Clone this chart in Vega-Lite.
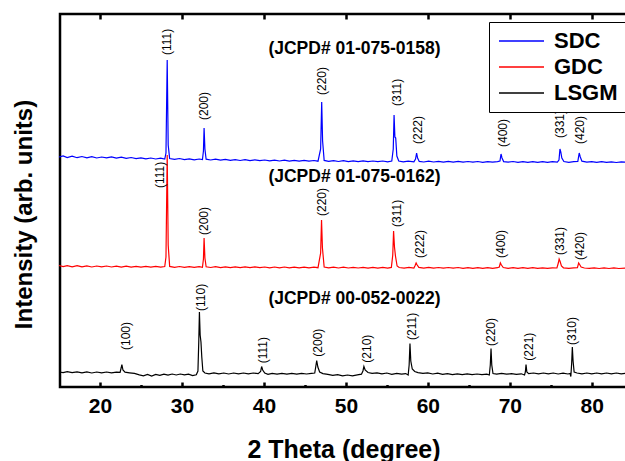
{
"$schema":"https://vega.github.io/schema/vega-lite/v6.json",
"width":567,"height":373,
"autosize":{"type":"none"},
"padding":{"left":60,"top":14,"right":0,"bottom":74},
"background":"white",
"config":{"view":{"stroke":"black","strokeWidth":2.5},"font":"Liberation Sans"},
"datasets":{
"curves":[
{"s":"SDC","x":15,"y":230},{"s":"SDC","x":15.5,"y":231},{"s":"SDC","x":16,"y":229.5},{"s":"SDC","x":16.6,"y":230.8},{"s":"SDC","x":17.2,"y":229.3},{"s":"SDC","x":17.8,"y":230.5},{"s":"SDC","x":18.4,"y":229.2},{"s":"SDC","x":19,"y":230.3},{"s":"SDC","x":19.6,"y":229},{"s":"SDC","x":20.2,"y":230},{"s":"SDC","x":20.8,"y":229.2},{"s":"SDC","x":21.4,"y":230.2},{"s":"SDC","x":22,"y":228.8},{"s":"SDC","x":22.6,"y":229.8},{"s":"SDC","x":23.2,"y":228.6},{"s":"SDC","x":23.8,"y":229.5},{"s":"SDC","x":24.4,"y":228.4},{"s":"SDC","x":25,"y":229.2},{"s":"SDC","x":25.6,"y":228.2},{"s":"SDC","x":26.2,"y":229},{"s":"SDC","x":26.8,"y":228},{"s":"SDC","x":27.4,"y":228.8},{"s":"SDC","x":27.9,"y":228},{"s":"SDC","x":28.05,"y":234},{"s":"SDC","x":28.2,"y":327},{"s":"SDC","x":28.32,"y":242},{"s":"SDC","x":28.5,"y":228.5},{"s":"SDC","x":29.1,"y":227.6},{"s":"SDC","x":29.7,"y":228.5},{"s":"SDC","x":30.3,"y":227.4},{"s":"SDC","x":30.9,"y":228.2},{"s":"SDC","x":31.5,"y":227.2},{"s":"SDC","x":32.1,"y":228},{"s":"SDC","x":32.5,"y":227.4},{"s":"SDC","x":32.62,"y":236},{"s":"SDC","x":32.7,"y":259},{"s":"SDC","x":32.8,"y":238},{"s":"SDC","x":32.95,"y":227.8},{"s":"SDC","x":33.5,"y":227},{"s":"SDC","x":34.1,"y":227.8},{"s":"SDC","x":34.7,"y":226.8},{"s":"SDC","x":35.3,"y":227.6},{"s":"SDC","x":35.9,"y":226.6},{"s":"SDC","x":36.5,"y":227.4},{"s":"SDC","x":37.1,"y":226.5},{"s":"SDC","x":37.7,"y":227.3},{"s":"SDC","x":38.3,"y":226.4},{"s":"SDC","x":38.9,"y":227.2},{"s":"SDC","x":39.5,"y":226.3},{"s":"SDC","x":40.1,"y":227},{"s":"SDC","x":40.7,"y":226.2},{"s":"SDC","x":41.3,"y":226.9},{"s":"SDC","x":41.9,"y":226},{"s":"SDC","x":42.5,"y":226.8},{"s":"SDC","x":43.1,"y":225.9},{"s":"SDC","x":43.7,"y":226.7},{"s":"SDC","x":44.3,"y":225.8},{"s":"SDC","x":44.9,"y":226.6},{"s":"SDC","x":45.5,"y":225.8},{"s":"SDC","x":46.1,"y":226.5},{"s":"SDC","x":46.6,"y":225.8},{"s":"SDC","x":46.92,"y":238},{"s":"SDC","x":47.05,"y":285},{"s":"SDC","x":47.16,"y":246},{"s":"SDC","x":47.35,"y":226.6},{"s":"SDC","x":47.9,"y":225.7},{"s":"SDC","x":48.5,"y":226.4},{"s":"SDC","x":49.1,"y":225.5},{"s":"SDC","x":49.7,"y":226.3},{"s":"SDC","x":50.3,"y":225.4},{"s":"SDC","x":50.9,"y":226.2},{"s":"SDC","x":51.5,"y":225.4},{"s":"SDC","x":52.1,"y":226.1},{"s":"SDC","x":52.7,"y":225.3},{"s":"SDC","x":53.3,"y":226},{"s":"SDC","x":53.9,"y":225.3},{"s":"SDC","x":54.5,"y":226},{"s":"SDC","x":55.1,"y":225.2},{"s":"SDC","x":55.6,"y":225.9},{"s":"SDC","x":55.78,"y":238},{"s":"SDC","x":55.88,"y":272},{"s":"SDC","x":55.98,"y":250},{"s":"SDC","x":56.08,"y":249},{"s":"SDC","x":56.22,"y":231},{"s":"SDC","x":56.45,"y":226},{"s":"SDC","x":57,"y":225.2},{"s":"SDC","x":57.6,"y":225.9},{"s":"SDC","x":58.3,"y":225.2},{"s":"SDC","x":58.5,"y":228},{"s":"SDC","x":58.63,"y":234},{"s":"SDC","x":58.75,"y":229},{"s":"SDC","x":58.95,"y":225.6},{"s":"SDC","x":59.5,"y":225},{"s":"SDC","x":60.1,"y":225.8},{"s":"SDC","x":60.7,"y":225},{"s":"SDC","x":61.3,"y":225.7},{"s":"SDC","x":61.9,"y":224.9},{"s":"SDC","x":62.5,"y":225.6},{"s":"SDC","x":63.1,"y":224.9},{"s":"SDC","x":63.7,"y":225.6},{"s":"SDC","x":64.3,"y":224.8},{"s":"SDC","x":64.9,"y":225.5},{"s":"SDC","x":65.5,"y":224.8},{"s":"SDC","x":66.1,"y":225.5},{"s":"SDC","x":66.7,"y":224.7},{"s":"SDC","x":67.3,"y":225.4},{"s":"SDC","x":67.9,"y":224.8},{"s":"SDC","x":68.5,"y":225.4},{"s":"SDC","x":68.8,"y":226},{"s":"SDC","x":68.93,"y":233},{"s":"SDC","x":69.05,"y":229},{"s":"SDC","x":69.25,"y":225.4},{"s":"SDC","x":69.8,"y":224.8},{"s":"SDC","x":70.4,"y":225.5},{"s":"SDC","x":71,"y":224.7},{"s":"SDC","x":71.6,"y":225.4},{"s":"SDC","x":72.2,"y":224.7},{"s":"SDC","x":72.8,"y":225.4},{"s":"SDC","x":73.4,"y":224.6},{"s":"SDC","x":74,"y":225.3},{"s":"SDC","x":74.6,"y":224.6},{"s":"SDC","x":75.2,"y":225.3},{"s":"SDC","x":75.8,"y":224.8},{"s":"SDC","x":76,"y":227},{"s":"SDC","x":76.12,"y":238},{"s":"SDC","x":76.22,"y":235},{"s":"SDC","x":76.35,"y":229},{"s":"SDC","x":76.6,"y":225.5},{"s":"SDC","x":77.2,"y":224.7},{"s":"SDC","x":77.8,"y":225.3},{"s":"SDC","x":78.3,"y":225.6},{"s":"SDC","x":78.47,"y":234},{"s":"SDC","x":78.6,"y":230},{"s":"SDC","x":78.8,"y":225.8},{"s":"SDC","x":79.4,"y":224.8},{"s":"SDC","x":80,"y":225.4},{"s":"SDC","x":80.6,"y":224.6},{"s":"SDC","x":81.2,"y":225.3},{"s":"SDC","x":81.8,"y":224.6},{"s":"SDC","x":82.4,"y":225.2},{"s":"SDC","x":83,"y":224.5},{"s":"SDC","x":83.6,"y":225.2},{"s":"SDC","x":84.3,"y":224.6},
{"s":"GDC","x":15,"y":121.5},{"s":"GDC","x":15.5,"y":120.3},{"s":"GDC","x":16,"y":121.4},{"s":"GDC","x":16.6,"y":120.2},{"s":"GDC","x":17.2,"y":121.3},{"s":"GDC","x":17.8,"y":120.1},{"s":"GDC","x":18.4,"y":121.2},{"s":"GDC","x":19,"y":120},{"s":"GDC","x":19.6,"y":121},{"s":"GDC","x":20.2,"y":120.1},{"s":"GDC","x":20.8,"y":121},{"s":"GDC","x":21.4,"y":120},{"s":"GDC","x":22,"y":120.9},{"s":"GDC","x":22.6,"y":119.9},{"s":"GDC","x":23.2,"y":120.8},{"s":"GDC","x":23.8,"y":119.8},{"s":"GDC","x":24.4,"y":120.7},{"s":"GDC","x":25,"y":119.8},{"s":"GDC","x":25.6,"y":120.6},{"s":"GDC","x":26.2,"y":119.8},{"s":"GDC","x":26.8,"y":120.6},{"s":"GDC","x":27.4,"y":119.8},{"s":"GDC","x":27.9,"y":120.5},{"s":"GDC","x":28.05,"y":130},{"s":"GDC","x":28.2,"y":232},{"s":"GDC","x":28.32,"y":142},{"s":"GDC","x":28.5,"y":120.6},{"s":"GDC","x":29.1,"y":119.7},{"s":"GDC","x":29.7,"y":120.5},{"s":"GDC","x":30.3,"y":119.6},{"s":"GDC","x":30.9,"y":120.4},{"s":"GDC","x":31.5,"y":119.6},{"s":"GDC","x":32.1,"y":120.3},{"s":"GDC","x":32.5,"y":119.7},{"s":"GDC","x":32.62,"y":128},{"s":"GDC","x":32.7,"y":149},{"s":"GDC","x":32.8,"y":129},{"s":"GDC","x":32.95,"y":120.2},{"s":"GDC","x":33.5,"y":119.5},{"s":"GDC","x":34.1,"y":120.3},{"s":"GDC","x":34.7,"y":119.4},{"s":"GDC","x":35.3,"y":120.2},{"s":"GDC","x":35.9,"y":119.4},{"s":"GDC","x":36.5,"y":120.2},{"s":"GDC","x":37.1,"y":119.3},{"s":"GDC","x":37.7,"y":120.1},{"s":"GDC","x":38.3,"y":119.3},{"s":"GDC","x":38.9,"y":120.1},{"s":"GDC","x":39.5,"y":119.3},{"s":"GDC","x":40.1,"y":120},{"s":"GDC","x":40.7,"y":119.2},{"s":"GDC","x":41.3,"y":120},{"s":"GDC","x":41.9,"y":119.2},{"s":"GDC","x":42.5,"y":120},{"s":"GDC","x":43.1,"y":119.2},{"s":"GDC","x":43.7,"y":119.9},{"s":"GDC","x":44.3,"y":119.1},{"s":"GDC","x":44.9,"y":119.9},{"s":"GDC","x":45.5,"y":119.1},{"s":"GDC","x":46.1,"y":119.9},{"s":"GDC","x":46.6,"y":119.3},{"s":"GDC","x":46.92,"y":134},{"s":"GDC","x":47.03,"y":167},{"s":"GDC","x":47.14,"y":139},{"s":"GDC","x":47.35,"y":120},{"s":"GDC","x":47.9,"y":119.1},{"s":"GDC","x":48.5,"y":119.8},{"s":"GDC","x":49.1,"y":119},{"s":"GDC","x":49.7,"y":119.8},{"s":"GDC","x":50.3,"y":119},{"s":"GDC","x":50.9,"y":119.7},{"s":"GDC","x":51.5,"y":119},{"s":"GDC","x":52.1,"y":119.7},{"s":"GDC","x":52.7,"y":118.9},{"s":"GDC","x":53.3,"y":119.7},{"s":"GDC","x":53.9,"y":118.9},{"s":"GDC","x":54.5,"y":119.6},{"s":"GDC","x":55.1,"y":118.9},{"s":"GDC","x":55.55,"y":119.6},{"s":"GDC","x":55.72,"y":132},{"s":"GDC","x":55.82,"y":156},{"s":"GDC","x":55.93,"y":140},{"s":"GDC","x":56.05,"y":131},{"s":"GDC","x":56.25,"y":121},{"s":"GDC","x":56.5,"y":119.5},{"s":"GDC","x":57.1,"y":118.9},{"s":"GDC","x":57.7,"y":119.6},{"s":"GDC","x":58.3,"y":119},{"s":"GDC","x":58.45,"y":121.5},{"s":"GDC","x":58.57,"y":124},{"s":"GDC","x":58.7,"y":122},{"s":"GDC","x":58.9,"y":119.6},{"s":"GDC","x":59.5,"y":118.9},{"s":"GDC","x":60.1,"y":119.6},{"s":"GDC","x":60.7,"y":118.8},{"s":"GDC","x":61.3,"y":119.5},{"s":"GDC","x":61.9,"y":118.8},{"s":"GDC","x":62.5,"y":119.5},{"s":"GDC","x":63.1,"y":118.8},{"s":"GDC","x":63.7,"y":119.5},{"s":"GDC","x":64.3,"y":118.7},{"s":"GDC","x":64.9,"y":119.4},{"s":"GDC","x":65.5,"y":118.7},{"s":"GDC","x":66.1,"y":119.4},{"s":"GDC","x":66.7,"y":118.7},{"s":"GDC","x":67.3,"y":119.4},{"s":"GDC","x":67.9,"y":118.7},{"s":"GDC","x":68.5,"y":119.3},{"s":"GDC","x":68.72,"y":120},{"s":"GDC","x":68.85,"y":124},{"s":"GDC","x":68.98,"y":122},{"s":"GDC","x":69.2,"y":119.5},{"s":"GDC","x":69.8,"y":118.7},{"s":"GDC","x":70.4,"y":119.3},{"s":"GDC","x":71,"y":118.6},{"s":"GDC","x":71.6,"y":119.3},{"s":"GDC","x":72.2,"y":118.6},{"s":"GDC","x":72.8,"y":119.3},{"s":"GDC","x":73.4,"y":118.6},{"s":"GDC","x":74,"y":119.2},{"s":"GDC","x":74.6,"y":118.6},{"s":"GDC","x":75.2,"y":119.2},{"s":"GDC","x":75.75,"y":119},{"s":"GDC","x":75.92,"y":124},{"s":"GDC","x":76.02,"y":128},{"s":"GDC","x":76.14,"y":125.5},{"s":"GDC","x":76.3,"y":121},{"s":"GDC","x":76.55,"y":119.2},{"s":"GDC","x":77.2,"y":118.6},{"s":"GDC","x":77.8,"y":119.2},{"s":"GDC","x":78.25,"y":119.4},{"s":"GDC","x":78.4,"y":124},{"s":"GDC","x":78.52,"y":122.5},{"s":"GDC","x":78.7,"y":120},{"s":"GDC","x":79.1,"y":119},{"s":"GDC","x":79.7,"y":118.6},{"s":"GDC","x":80.3,"y":119.2},{"s":"GDC","x":80.9,"y":118.5},{"s":"GDC","x":81.5,"y":119.2},{"s":"GDC","x":82.1,"y":118.5},{"s":"GDC","x":82.7,"y":119.1},{"s":"GDC","x":83.3,"y":118.5},{"s":"GDC","x":84.3,"y":119},
{"s":"LSGM","x":15,"y":15},{"s":"LSGM","x":15.5,"y":14.3},{"s":"LSGM","x":16,"y":15.4},{"s":"LSGM","x":16.6,"y":14.4},{"s":"LSGM","x":17.2,"y":15.2},{"s":"LSGM","x":17.8,"y":14.2},{"s":"LSGM","x":18.4,"y":15.1},{"s":"LSGM","x":19,"y":14},{"s":"LSGM","x":19.6,"y":15},{"s":"LSGM","x":20.2,"y":14.2},{"s":"LSGM","x":20.8,"y":15},{"s":"LSGM","x":21.4,"y":14.1},{"s":"LSGM","x":22,"y":14.8},{"s":"LSGM","x":22.45,"y":14.6},{"s":"LSGM","x":22.58,"y":19},{"s":"LSGM","x":22.67,"y":22.5},{"s":"LSGM","x":22.8,"y":17},{"s":"LSGM","x":23.05,"y":14.8},{"s":"LSGM","x":23.6,"y":14.2},{"s":"LSGM","x":24.2,"y":13.6},{"s":"LSGM","x":24.8,"y":12.2},{"s":"LSGM","x":25.3,"y":11.2},{"s":"LSGM","x":25.8,"y":12.5},{"s":"LSGM","x":26.3,"y":11},{"s":"LSGM","x":26.8,"y":12.6},{"s":"LSGM","x":27.3,"y":11.6},{"s":"LSGM","x":27.8,"y":12.8},{"s":"LSGM","x":28.3,"y":11.8},{"s":"LSGM","x":28.8,"y":13},{"s":"LSGM","x":29.3,"y":12},{"s":"LSGM","x":29.8,"y":13},{"s":"LSGM","x":30.3,"y":12.2},{"s":"LSGM","x":30.8,"y":12.8},{"s":"LSGM","x":31.3,"y":11.4},{"s":"LSGM","x":31.75,"y":12.2},{"s":"LSGM","x":31.95,"y":16},{"s":"LSGM","x":32.05,"y":45},{"s":"LSGM","x":32.13,"y":75},{"s":"LSGM","x":32.22,"y":52},{"s":"LSGM","x":32.32,"y":45},{"s":"LSGM","x":32.42,"y":30},{"s":"LSGM","x":32.55,"y":16},{"s":"LSGM","x":32.8,"y":14},{"s":"LSGM","x":33.3,"y":13.2},{"s":"LSGM","x":33.9,"y":14.2},{"s":"LSGM","x":34.5,"y":13.2},{"s":"LSGM","x":35.1,"y":14},{"s":"LSGM","x":35.7,"y":13},{"s":"LSGM","x":36.3,"y":14},{"s":"LSGM","x":36.9,"y":13.2},{"s":"LSGM","x":37.5,"y":14},{"s":"LSGM","x":38.1,"y":13.2},{"s":"LSGM","x":38.7,"y":14},{"s":"LSGM","x":39.3,"y":13.4},{"s":"LSGM","x":39.6,"y":15.5},{"s":"LSGM","x":39.72,"y":20.5},{"s":"LSGM","x":39.85,"y":17},{"s":"LSGM","x":40.1,"y":14},{"s":"LSGM","x":40.5,"y":12.6},{"s":"LSGM","x":41,"y":13.6},{"s":"LSGM","x":41.6,"y":12.8},{"s":"LSGM","x":42.2,"y":13.6},{"s":"LSGM","x":42.8,"y":12.8},{"s":"LSGM","x":43.4,"y":13.6},{"s":"LSGM","x":44,"y":12.8},{"s":"LSGM","x":44.6,"y":13.6},{"s":"LSGM","x":45.2,"y":13},{"s":"LSGM","x":45.8,"y":13.6},{"s":"LSGM","x":46.2,"y":14},{"s":"LSGM","x":46.32,"y":20},{"s":"LSGM","x":46.44,"y":26.5},{"s":"LSGM","x":46.58,"y":20},{"s":"LSGM","x":46.8,"y":15},{"s":"LSGM","x":47.2,"y":13.4},{"s":"LSGM","x":47.8,"y":12.6},{"s":"LSGM","x":48.4,"y":11.6},{"s":"LSGM","x":49,"y":12.4},{"s":"LSGM","x":49.6,"y":11.2},{"s":"LSGM","x":50.2,"y":12},{"s":"LSGM","x":50.8,"y":11.2},{"s":"LSGM","x":51.4,"y":12.2},{"s":"LSGM","x":51.9,"y":12.8},{"s":"LSGM","x":52.08,"y":16},{"s":"LSGM","x":52.2,"y":20.5},{"s":"LSGM","x":52.35,"y":17},{"s":"LSGM","x":52.7,"y":14.5},{"s":"LSGM","x":53.2,"y":13.6},{"s":"LSGM","x":53.8,"y":14.2},{"s":"LSGM","x":54.4,"y":13.2},{"s":"LSGM","x":55,"y":14},{"s":"LSGM","x":55.6,"y":12.6},{"s":"LSGM","x":56.2,"y":13.6},{"s":"LSGM","x":56.8,"y":12.8},{"s":"LSGM","x":57.3,"y":13.4},{"s":"LSGM","x":57.6,"y":12},{"s":"LSGM","x":57.72,"y":22},{"s":"LSGM","x":57.82,"y":43.5},{"s":"LSGM","x":57.92,"y":26},{"s":"LSGM","x":58.1,"y":18},{"s":"LSGM","x":58.4,"y":15.5},{"s":"LSGM","x":58.8,"y":14.4},{"s":"LSGM","x":59.4,"y":13.6},{"s":"LSGM","x":60,"y":14.2},{"s":"LSGM","x":60.6,"y":13},{"s":"LSGM","x":61.2,"y":13.8},{"s":"LSGM","x":61.8,"y":12.6},{"s":"LSGM","x":62.4,"y":13.4},{"s":"LSGM","x":63,"y":12.4},{"s":"LSGM","x":63.6,"y":13.2},{"s":"LSGM","x":64.2,"y":12.4},{"s":"LSGM","x":64.8,"y":13.2},{"s":"LSGM","x":65.4,"y":12.4},{"s":"LSGM","x":66,"y":13},{"s":"LSGM","x":66.6,"y":12.4},{"s":"LSGM","x":67.2,"y":12.8},{"s":"LSGM","x":67.5,"y":12},{"s":"LSGM","x":67.62,"y":22},{"s":"LSGM","x":67.71,"y":38.5},{"s":"LSGM","x":67.8,"y":22},{"s":"LSGM","x":67.95,"y":13.5},{"s":"LSGM","x":68.4,"y":12.8},{"s":"LSGM","x":69,"y":13.6},{"s":"LSGM","x":69.6,"y":12.8},{"s":"LSGM","x":70.2,"y":13.4},{"s":"LSGM","x":70.8,"y":12.6},{"s":"LSGM","x":71.4,"y":13.2},{"s":"LSGM","x":71.8,"y":12},{"s":"LSGM","x":71.9,"y":15},{"s":"LSGM","x":71.98,"y":22.5},{"s":"LSGM","x":72.08,"y":15},{"s":"LSGM","x":72.3,"y":13.4},{"s":"LSGM","x":72.9,"y":14},{"s":"LSGM","x":73.5,"y":13.2},{"s":"LSGM","x":74.1,"y":14},{"s":"LSGM","x":74.7,"y":13.2},{"s":"LSGM","x":75.3,"y":14},{"s":"LSGM","x":75.9,"y":13},{"s":"LSGM","x":76.5,"y":13.8},{"s":"LSGM","x":77.1,"y":13},{"s":"LSGM","x":77.35,"y":13.5},{"s":"LSGM","x":77.45,"y":10.5},{"s":"LSGM","x":77.55,"y":24},{"s":"LSGM","x":77.63,"y":40},{"s":"LSGM","x":77.72,"y":26},{"s":"LSGM","x":77.85,"y":15},{"s":"LSGM","x":78.2,"y":14},{"s":"LSGM","x":78.8,"y":13.2},{"s":"LSGM","x":79.4,"y":14},{"s":"LSGM","x":80,"y":13.2},{"s":"LSGM","x":80.6,"y":14},{"s":"LSGM","x":81.2,"y":13.2},{"s":"LSGM","x":81.8,"y":14},{"s":"LSGM","x":82.4,"y":13.2},{"s":"LSGM","x":83,"y":14},{"s":"LSGM","x":83.6,"y":13.2},{"s":"LSGM","x":84.3,"y":13.8}
],
"peaks":[
{"t":"(111)","x":28.18,"y":332},{"t":"(200)","x":32.73,"y":267},{"t":"(220)","x":47.05,"y":292},{"t":"(311)","x":56.2,"y":281},{"t":"(222)","x":58.84,"y":243},{"t":"(400)","x":69.14,"y":240},{"t":"(331)","x":76.13,"y":249},{"t":"(420)","x":78.57,"y":243},
{"t":"(111)","x":27.32,"y":199},{"t":"(200)","x":32.73,"y":152},{"t":"(220)","x":47.05,"y":171},{"t":"(311)","x":56.2,"y":160},{"t":"(222)","x":59.05,"y":129},{"t":"(400)","x":68.9,"y":129},{"t":"(331)","x":76.13,"y":132},{"t":"(420)","x":78.57,"y":127},
{"t":"(100)","x":23.13,"y":37},{"t":"(110)","x":32.28,"y":76},{"t":"(111)","x":39.85,"y":23.7},{"t":"(200)","x":46.64,"y":30.3},{"t":"(210)","x":52.54,"y":24.3},{"t":"(211)","x":58.03,"y":47},{"t":"(220)","x":67.67,"y":41},{"t":"(221)","x":72.35,"y":26.3},{"t":"(310)","x":77.64,"y":42}
],
"cards":[
{"t":"(JCPD# 01-075-0158)","x":51.05,"y":338},
{"t":"(JCPD# 01-075-0162)","x":51.05,"y":210},
{"t":"(JCPD# 00-052-0022)","x":51.05,"y":88}
]
},
"resolve":{"axis":{"x":"independent","y":"independent"}},
"layer":[
{"data":{"name":"curves"},
 "mark":{"type":"line","strokeWidth":1.2},
 "encoding":{
  "x":{"field":"x","type":"quantitative","scale":{"domain":[15.12,84.3],"nice":false,"zero":false},
   "axis":{"orient":"bottom","values":[20,30,40,50,60,70,80],
    "tickSize":-5,"tickWidth":2.5,"tickColor":"black","domain":false,"grid":false,
    "labelFont":"Liberation Sans","labelFontSize":21,"labelFontWeight":"bold","labelColor":"black","labelPadding":13,
    "title":"2 Theta (degree)","titleFont":"Liberation Sans","titleFontSize":25,"titleFontWeight":"bold","titleColor":"black",
    "titleY":70,"titleBaseline":"alphabetic"}},
  "y":{"field":"y","type":"quantitative","scale":{"domain":[0,373],"nice":false,"zero":false},
   "axis":{"orient":"left","title":"Intensity (arb. units)","labels":false,"ticks":false,"domain":false,"grid":false,
    "titleFont":"Liberation Sans","titleFontSize":24,"titleFontWeight":"bold","titleColor":"black",
    "titleX":-29,"titleY":200,"titleAngle":270,"titleBaseline":"alphabetic","titleAlign":"center"}},
  "color":{"field":"s","type":"nominal","scale":{"domain":["SDC","GDC","LSGM"],"range":["#0000ff","#ff0000","#000000"]},
   "legend":{"orient":"none","legendX":429,"legendY":8,"title":null,"symbolType":"M-1,0H4","symbolSize":324,"symbolStrokeWidth":1.5,
    "labelFont":"Liberation Sans","labelFontSize":22,"labelFontWeight":"bold","labelColor":"black","labelOffset":35,
    "strokeColor":"black","fillColor":"white","padding":8,"rowPadding":4}}
 }},
{"data":{"name":"peaks"},
 "mark":{"type":"text","angle":270,"align":"left","baseline":"middle","font":"Liberation Sans","fontSize":12,"color":"black"},
 "encoding":{
  "x":{"field":"x","type":"quantitative",
   "axis":{"orient":"bottom","values":[25,35,45,55,65,75],"labels":false,"title":null,"domain":false,"grid":false,
    "tickSize":-2.5,"tickWidth":2.5,"tickColor":"black"}},
  "y":{"field":"y","type":"quantitative","axis":null},
  "text":{"field":"t"}
 }},
{"data":{"name":"cards"},
 "mark":{"type":"text","align":"center","baseline":"middle","font":"Liberation Sans","fontSize":17.5,"fontWeight":"bold","color":"black"},
 "encoding":{
  "x":{"field":"x","type":"quantitative",
   "axis":{"orient":"top","values":[20,30,40,50,60,70,80],"labels":false,"title":null,"domain":false,"grid":false,
    "tickSize":-5,"tickWidth":2.5,"tickColor":"black"}},
  "y":{"field":"y","type":"quantitative","axis":null},
  "text":{"field":"t"}
 }}
]
}
